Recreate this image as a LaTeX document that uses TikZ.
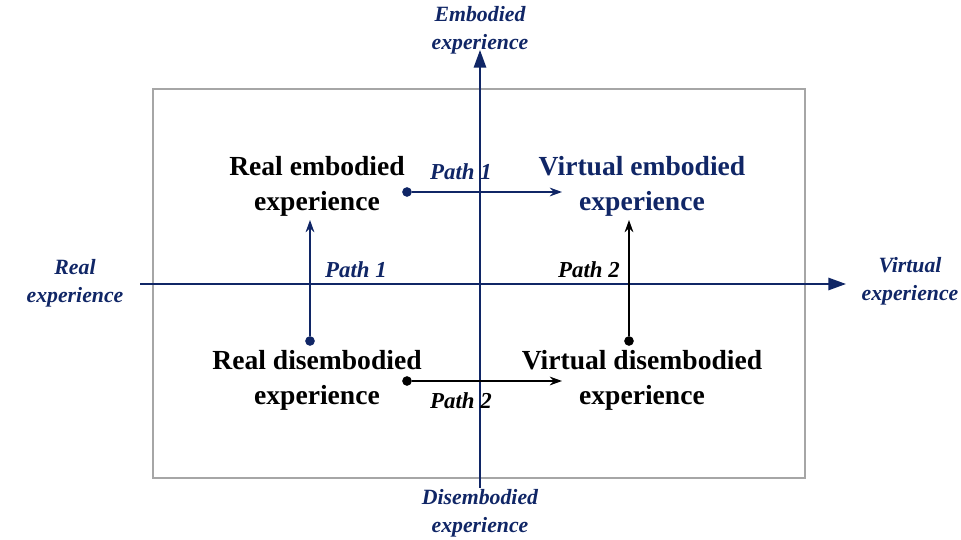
\documentclass[tikz,border=0pt]{standalone}
\usepackage{fontspec}
\setmainfont{Liberation Serif}
\usetikzlibrary{arrows,arrows.meta,positioning}
\definecolor{navy}{RGB}{16,38,102}
\tikzstyle{quad}=[align=center,font=\fontsize{15.7}{20}\selectfont\bfseries,text=black]
\tikzstyle{axislabel}=[align=center,font=\fontsize{12.4}{16}\selectfont\bfseries\itshape,text=navy]
\tikzstyle{pathlabel}=[font=\fontsize{13}{15}\selectfont\bfseries\itshape]
\tikzstyle{dot}=[circle,fill,inner sep=0pt,minimum size=5.5pt]

\begin{document}
\begin{tikzpicture}[x=0.02cm,y=-0.02cm]
        \useasboundingbox (0,0) rectangle (961,540);
        % frame
        \draw[gray!70,line width=0.8pt] (153,89) rectangle (805,478);

        % axes
        \coordinate (ybot) at (480,488);
        \coordinate (ytop) at (480,50);
        \coordinate (xleft) at (140,284);
        \coordinate (xright) at (846,284);
        \draw[navy,line width=1pt,-{Triangle[length=10pt,width=7pt]}] (ybot) -- (ytop);
        \draw[navy,line width=1pt,-{Triangle[length=10pt,width=7pt]}] (xleft) -- (xright);
        \node (emb) [axislabel] at (480,30) {Embodied\\experience};
        \node (disemb) [axislabel] at (480,513) {Disembodied\\experience};
        \node (real) [axislabel] at (75,283) {Real\\experience};
        \node (virt) [axislabel] at (910,281) {Virtual\\experience};

        % quadrants
        \node (re) [quad] at (317,186) {Real embodied\\experience};
        \node (ve) [quad,text=navy] at (642,186) {Virtual embodied\\experience};
        \node (rd) [quad] at (317,380) {Real disembodied\\experience};
        \node (vd) [quad] at (642,380) {Virtual disembodied\\experience};

        % path 1
        \node (d1) [dot,navy] at (407,192) {};
        \coordinate (e1) at (562,192);
        \node (d2) [dot,navy] at (310,341) {};
        \coordinate (e2) at (310,220);
        \path[-{Stealth[length=7pt,width=5pt]},shorten >=0pt,navy,line width=0.8pt]
        (d1) edge (e1)
        (d2) edge (e2);
        \node (p1a) [pathlabel,text=navy] at (461,172) {Path 1};
        \node (p1b) [pathlabel,text=navy] at (356,270) {Path 1};

        % path 2
        \node (d3) [dot] at (629,341) {};
        \coordinate (e3) at (629,220);
        \node (d4) [dot] at (407,381) {};
        \coordinate (e4) at (562,381);
        \path[-{Stealth[length=7pt,width=5pt]},line width=0.8pt]
        (d3) edge (e3)
        (d4) edge (e4);
        \node (p2a) [pathlabel] at (589,270) {Path 2};
        \node (p2b) [pathlabel] at (461,401) {Path 2};
\end{tikzpicture}
\end{document}
